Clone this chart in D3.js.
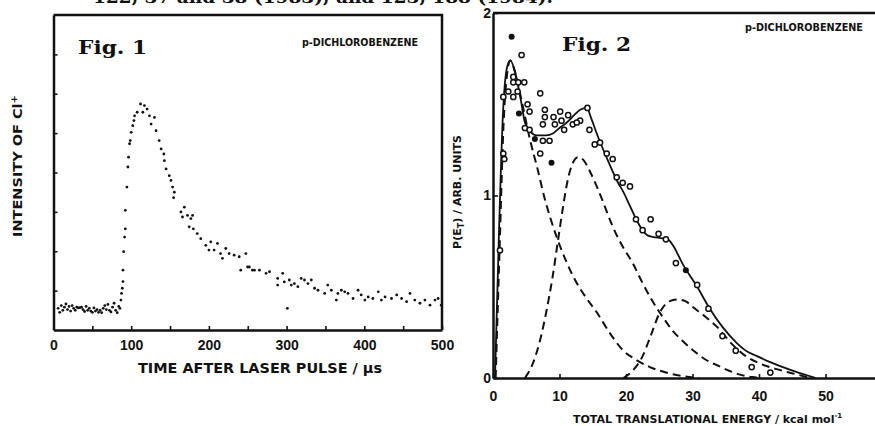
<!DOCTYPE html>
<html lang="en">

<head>
   <meta charset="UTF-8">
   <title>Fig 1 / Fig 2 - p-dichlorobenzene</title>
   <script src="https://d3js.org/d3.v7.min.js"></script>
   <style>
      body {
         margin: 0;
         background: #fff;
      }

      .axis path,
      .axis line {
         stroke: #111;
      }

      .axis path {
         stroke-width: 2.5;
      }

      .axis line {
         stroke-width: 1.6;
      }

      .axis text {
         fill: #111;
         font-family: 'Liberation Sans', sans-serif;
         font-weight: bold;
         font-size: 14px;
      }

      .label {
         fill: #111;
         font-family: 'DejaVu Sans', sans-serif;
         font-weight: bold;
      }

      .fig {
         fill: #111;
         font-family: 'DejaVu Serif', serif;
         font-weight: bold;
      }
   </style>
</head>

<body>
   <script>
      // Fig. 1 - Cl+ signal vs time after laser pulse
      const timeUs = [
         6, 8, 10, 12, 14, 16, 18, 20, 22, 24, 26, 28, 30, 32, 34, 36, 38, 40, 42, 44,
         46, 48, 50, 52, 54, 56, 58, 60, 62, 64, 66, 68, 70, 72, 74, 76, 78, 80, 82, 84,
         85.5, 86.8, 87.5, 88.6, 89.4, 89.4, 90.3, 91.5, 92.4, 92.4, 94.5, 95.8, 96.6, 97.9, 98.8,
         100, 102, 103.5, 104.3, 107.7, 112, 115, 117, 120.5, 123.5, 125.6, 129.9, 132, 136, 138.5,
         142, 142.7, 144.9, 149, 151.2, 153.3, 155.5, 154.6, 164, 166, 168.4, 172.5, 174.6, 176.8, 179,
         180, 185, 189.5, 196, 200, 202.4, 206.7, 211, 215, 217.4, 221.7, 226, 232.5, 239, 241,
         247.6, 249.8, 252, 256, 258.6, 265, 273.6, 278, 288.5, 288.5, 295, 297, 301, 303.5, 306,
         310, 314.5, 318.8, 323, 327.5, 331.8, 336, 340.4, 349, 353, 357.6, 364, 366, 370.5, 374.8,
         379, 385.5, 392, 396, 400.7, 405, 411, 418, 422, 426.7, 435, 441.7, 448, 454.5, 458.8,
         465, 471.6, 478, 484.6, 491, 495, 499
      ];
      const intensity = [
         0.55, 0.45, 0.62, 0.5, 0.58, 0.66, 0.52, 0.6, 0.48, 0.62, 0.55, 0.5, 0.58, 0.56, 0.57, 0.58, 0.52, 0.47, 0.6, 0.5,
         0.55, 0.48, 0.45, 0.56, 0.48, 0.52, 0.45, 0.5, 0.44, 0.55, 0.62, 0.52, 0.65, 0.5, 0.46, 0.58, 0.68, 0.5, 0.44, 0.6,
         0.55, 0.76, 0.93, 1.06, 1.23, 1.52, 1.99, 2.36, 2.57, 3.04, 3.63, 4.14, 4.39, 4.73, 4.81,
         5.02, 5.19, 5.32, 5.44, 5.53, 5.74, 5.53, 5.70, 5.61, 5.44, 5.23, 5.40, 5.06, 4.81, 4.6,
         4.47, 4.30, 4.09, 3.92, 3.80, 3.63, 3.50, 3.36, 3.0, 2.87, 3.12, 2.91, 2.62, 2.83, 2.91,
         2.57, 2.45, 2.32, 2.15, 2.03, 2.24, 2.03, 2.2, 1.94, 1.82, 2.07, 1.94, 1.9, 1.86, 1.52,
         1.94, 1.60, 1.60, 1.52, 1.52, 1.52, 1.44, 1.48, 1.31, 1.14, 1.44, 1.22, 0.55, 1.27, 1.14,
         1.18, 1.10, 1.31, 1.27, 1.18, 1.27, 1.06, 1.01, 0.93, 1.14, 1.01, 0.76, 0.93, 1.01, 0.97,
         0.93, 0.80, 1.01, 0.89, 0.76, 0.84, 0.80, 0.97, 0.76, 0.84, 0.80, 0.89, 0.80, 0.72, 0.93,
         0.76, 0.68, 0.76, 0.63, 0.76, 0.80, 0.63
      ];
      const timeTicks = [0, 50, 100, 150, 200, 250, 300, 350, 400, 450, 500];
      const intensityTicks = [1, 2, 3, 4, 5, 6, 7];

      // Fig. 2 - P(ET) distribution: measured points and fitted components
      const energyOpen = [
         3.05, 3.05, 3.8, 4.7, 4.3, 1.55, 2.3, 3.05, 3.7, 7.1, 5.2, 5.5, 7.8, 7.8, 9.1, 10.1, 11.3, 12, 13.1, 14.2,
         7.5, 9.3, 10.3, 10.7, 12.6, 4.8, 5.5, 7.5, 7.1, 14.5, 15.3, 16.1, 17.1, 18, 18.6, 19.5, 20.6, 1.55, 1.7, 1.05,
         21.5, 22.5, 23.7, 24.9, 26, 27.5, 30.7, 32.4, 34.5, 36.5, 38.9, 41.7, 8.5
      ];
      const pOpen = [
         1.65, 1.62, 1.62, 1.62, 1.77, 1.54, 1.57, 1.54, 1.57, 1.56, 1.50, 1.46, 1.47, 1.43, 1.43, 1.46, 1.44, 1.39, 1.41, 1.48,
         1.39, 1.39, 1.41, 1.36, 1.40, 1.37, 1.36, 1.30, 1.23, 1.36, 1.28, 1.29, 1.23, 1.20, 1.10, 1.07, 1.05, 1.23, 1.20, 0.70,
         0.87, 0.81, 0.87, 0.79, 0.76, 0.63, 0.51, 0.38, 0.23, 0.15, 0.06, 0.03, 1.30
      ];
      const energyFilled = [2.8, 3.9, 6.3, 8.8, 29];
      const pFilled = [1.87, 1.45, 1.31, 1.18, 0.59];

      const totalE = [0.3, 0.9, 1.5, 2.1, 2.6, 3.3, 4.2, 4.8, 5.6, 6.6, 8, 9, 10, 11.1, 12.2, 13.1, 14.1, 14.8, 15.6, 17.3,
         18.8, 19.6, 20.5, 21.4, 22.3, 23.3, 24.5, 26.3, 27, 28.6, 30.7, 32.6, 34.5, 36.7, 38, 39.7, 41.5, 43.6, 45.5, 47.2, 48.5];
      const totalP = [0, 0.8, 1.45, 1.7, 1.74, 1.68, 1.52, 1.40, 1.35, 1.33, 1.33, 1.34, 1.37, 1.40, 1.44, 1.47, 1.48, 1.42, 1.34, 1.19,
         1.07, 1.02, 0.95, 0.88, 0.82, 0.78, 0.77, 0.76, 0.73, 0.62, 0.50, 0.38, 0.28, 0.19, 0.15, 0.12, 0.09, 0.06, 0.035, 0.015, 0];

      const fastE = [0.4, 1, 1.6, 2.1, 2.6, 3.2, 4.3, 5.6, 6.6, 7.8, 9.6, 11, 12.6, 14, 15.6, 17.5, 19.6, 21.5, 23.6, 26, 28.6, 31];
      const fastP = [0, 0.72, 1.4, 1.66, 1.74, 1.69, 1.52, 1.30, 1.16, 0.98, 0.77, 0.64, 0.52, 0.44, 0.36, 0.25, 0.15, 0.10, 0.06, 0.03, 0.01, 0];

      const midE = [4.8, 6, 7.1, 8, 8.9, 9.8, 10.5, 11.1, 11.8, 12.8, 13.7, 14.6, 15.6, 16.6, 18, 19.5, 21, 22.5, 24, 25.6,
         27, 28.6, 30.5, 32, 33.7, 35.5, 37, 39, 40.5];
      const midP = [0, 0.08, 0.21, 0.36, 0.54, 0.76, 0.93, 1.06, 1.16, 1.21, 1.19, 1.13, 1.05, 0.96, 0.83, 0.72, 0.63, 0.52, 0.42, 0.33,
         0.26, 0.2, 0.14, 0.1, 0.07, 0.04, 0.02, 0.005, 0];

      const slowE = [19.6, 21, 22.5, 23.6, 25.1, 26.5, 27.7, 29, 30, 31.8, 33.7, 36.1, 38, 40.1, 42.5, 45.1, 47.7];
      const slowP = [0, 0.04, 0.12, 0.22, 0.36, 0.42, 0.43, 0.42, 0.39, 0.34, 0.28, 0.18, 0.12, 0.08, 0.05, 0.025, 0];

      const energyTicks = [0, 10, 20, 30, 40, 50];
      const pTicks = [0, 1, 2];

      const width = 875;
      const height = 426;

      const svg = d3.select('body').append('svg')
         .attr('width', width)
         .attr('height', height)
         .style('background', '#fff');

      // reference line of the page above, only its lower half is visible
      svg.append('text')
         .attr('class', 'fig')
         .attr('x', 93)
         .attr('y', 3)
         .attr('font-size', '17px')
         .attr('textLength', 460)
         .attr('lengthAdjust', 'spacingAndGlyphs')
         .text('122, 37 and 38 (1983), and 123, 188 (1984).');

      // ---------- Fig. 1 ----------
      const x1 = d3.scaleLinear().domain([0, 500]).range([53.5, 442]);
      const y1 = d3.scaleLinear().domain([0, 8]).range([330, 15]);

      const g1 = svg.append('g');

      g1.append('g')
         .attr('class', 'axis')
         .attr('transform', `translate(0, ${y1(0)})`)
         .call(d3.axisBottom(x1)
            .tickValues(timeTicks)
            .tickSize(-4)
            .tickSizeOuter(0)
            .tickPadding(10)
            .tickFormat(d => d % 100 === 0 ? d : ''));

      g1.append('g')
         .attr('class', 'axis')
         .attr('transform', `translate(${x1(0)}, 0)`)
         .call(d3.axisLeft(y1)
            .tickValues(intensityTicks)
            .tickSize(-4)
            .tickSizeOuter(0)
            .tickFormat(''));

      // top and right sides of the frame
      g1.append('path')
         .attr('d', `M${x1(0)},${y1(8)}H${x1(500)}V${y1(0)}`)
         .attr('fill', 'none')
         .attr('stroke', '#111')
         .attr('stroke-width', 2.5);

      g1.selectAll('.pt')
         .data(timeUs.map((t, i) => [t, intensity[i]]))
         .enter().append('circle')
         .attr('class', 'pt')
         .attr('cx', d => x1(d[0]))
         .attr('cy', d => y1(d[1]))
         .attr('r', 1.4)
         .attr('fill', '#111');

      g1.append('text')
         .attr('class', 'fig')
         .attr('x', 78)
         .attr('y', 54)
         .attr('font-size', '18px')
         .attr('textLength', 69)
         .attr('lengthAdjust', 'spacingAndGlyphs')
         .text('Fig. 1');

      g1.append('text')
         .attr('class', 'label')
         .attr('x', 302)
         .attr('y', 46)
         .attr('font-size', '10px')
         .attr('textLength', 116)
         .attr('lengthAdjust', 'spacingAndGlyphs')
         .text('p-DICHLOROBENZENE');

      g1.append('text')
         .attr('class', 'label')
         .attr('x', 260)
         .attr('y', 373)
         .attr('font-size', '14px')
         .attr('text-anchor', 'middle')
         .attr('textLength', 244)
         .attr('lengthAdjust', 'spacingAndGlyphs')
         .text('TIME AFTER LASER PULSE / μs');

      const yl1 = g1.append('text')
         .attr('class', 'label')
         .attr('transform', 'translate(22, 166) rotate(-90)')
         .attr('font-size', '13px')
         .attr('text-anchor', 'middle')
         .attr('textLength', 142)
         .attr('lengthAdjust', 'spacingAndGlyphs');
      yl1.append('tspan').text('INTENSITY OF Cl');
      yl1.append('tspan').attr('dy', -5).attr('font-size', '9px').text('+');

      // ---------- Fig. 2 ----------
      const x2 = d3.scaleLinear().domain([0, 60]).range([493, 892]);
      const y2 = d3.scaleLinear().domain([0, 2]).range([378, 13]);

      const g2 = svg.append('g');

      g2.append('g')
         .attr('class', 'axis')
         .attr('transform', `translate(0, ${y2(0)})`)
         .call(d3.axisBottom(x2)
            .tickValues(energyTicks)
            .tickSize(-4)
            .tickSizeOuter(0)
            .tickPadding(13));

      g2.append('g')
         .attr('class', 'axis')
         .attr('transform', `translate(${x2(0)}, 0)`)
         .call(d3.axisLeft(y2)
            .tickValues(pTicks)
            .tickSize(-5)
            .tickSizeOuter(0)
            .tickPadding(2)
            .tickFormat(d3.format('d')));

      g2.append('path')
         .attr('d', `M${x2(0)},${y2(2)}H${width}`)
         .attr('stroke', '#111')
         .attr('stroke-width', 2.5);

      const line2 = (es, ps) => d3.line()
         .x(d => x2(d))
         .y((d, i) => y2(ps[i]))
         .curve(d3.curveMonotoneX)(es);

      [[fastE, fastP], [midE, midP], [slowE, slowP]].forEach(([es, ps]) => {
         g2.append('path')
            .attr('d', line2(es, ps))
            .attr('fill', 'none')
            .attr('stroke', '#111')
            .attr('stroke-width', 2)
            .attr('stroke-dasharray', '8,5');
      });

      g2.append('path')
         .attr('d', line2(totalE, totalP))
         .attr('fill', 'none')
         .attr('stroke', '#111')
         .attr('stroke-width', 1.8);

      g2.selectAll('.open')
         .data(energyOpen.map((e, i) => [e, pOpen[i]]))
         .enter().append('circle')
         .attr('class', 'open')
         .attr('cx', d => x2(d[0]))
         .attr('cy', d => y2(d[1]))
         .attr('r', 2.6)
         .attr('fill', '#fff')
         .attr('stroke', '#111')
         .attr('stroke-width', 1.5);

      g2.selectAll('.filled')
         .data(energyFilled.map((e, i) => [e, pFilled[i]]))
         .enter().append('circle')
         .attr('class', 'filled')
         .attr('cx', d => x2(d[0]))
         .attr('cy', d => y2(d[1]))
         .attr('r', 3)
         .attr('fill', '#111');

      g2.append('text')
         .attr('class', 'fig')
         .attr('x', 562)
         .attr('y', 51)
         .attr('font-size', '18px')
         .attr('textLength', 69)
         .attr('lengthAdjust', 'spacingAndGlyphs')
         .text('Fig. 2');

      g2.append('text')
         .attr('class', 'label')
         .attr('x', 745)
         .attr('y', 31)
         .attr('font-size', '10px')
         .attr('textLength', 118)
         .attr('lengthAdjust', 'spacingAndGlyphs')
         .text('p-DICHLOROBENZENE');

      const xl2 = g2.append('text')
         .attr('class', 'label')
         .attr('x', 573)
         .attr('y', 423)
         .attr('font-size', '11px');
      xl2.append('tspan').text('TOTAL TRANSLATIONAL ENERGY / kcal mol');
      xl2.append('tspan').attr('dy', -5).attr('font-size', '7px').text('-1');

      const yl2 = g2.append('text')
         .attr('class', 'label')
         .attr('transform', 'translate(461, 192) rotate(-90)')
         .attr('font-size', '11px')
         .attr('text-anchor', 'middle');
      yl2.append('tspan').text('P(E');
      yl2.append('tspan').attr('dy', 3).attr('font-size', '8px').text('T');
      yl2.append('tspan').attr('dy', -3).text(') / ARB. UNITS');
   </script>
</body>

</html>
